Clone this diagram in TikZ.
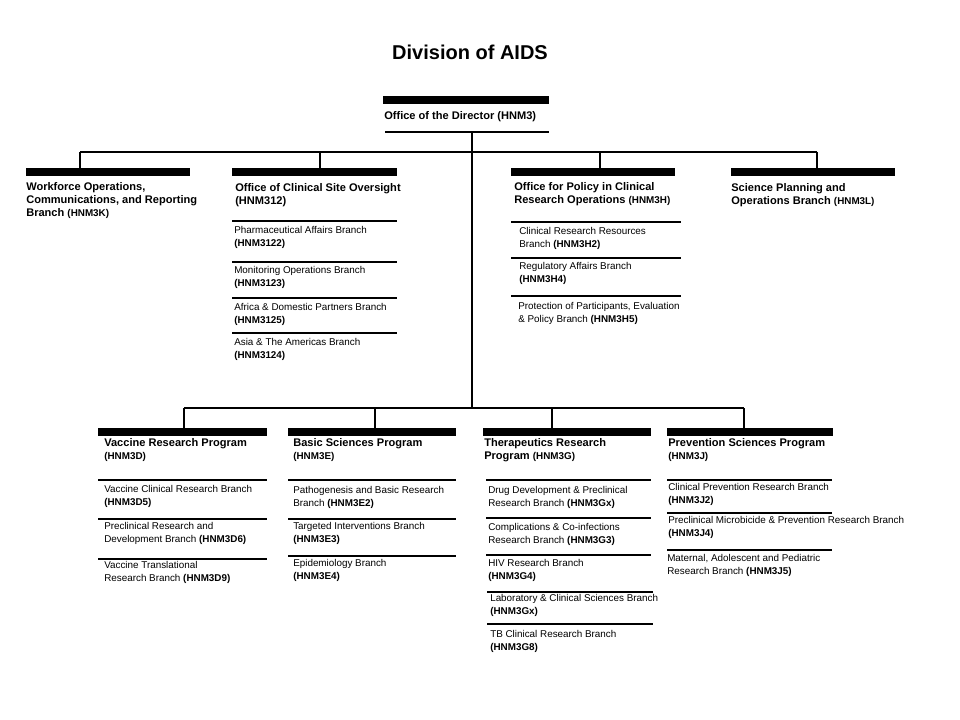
\documentclass[tikz,border=0pt]{standalone}
\usepackage{fontspec}
\setmainfont{Liberation Sans}
\begin{document}
\begin{tikzpicture}[x=0.75pt,y=-0.75pt,
  hd/.style={anchor=north west,inner sep=0pt,align=left,font=\fontsize{8.3}{10}\selectfont\bfseries},
  sb/.style={anchor=north west,inner sep=0pt,align=left,font=\fontsize{7.4}{9.5}\selectfont},
  conn/.style={line width=2pt},
  thin/.style={line width=2pt}]
\useasboundingbox (0,0) rectangle (960,720);
\node[font=\fontsize{15}{18}\selectfont\bfseries] (title) at (470,52) {Division of AIDS};
% bar macro via fill
\newcommand{\bigbar}[3]{\fill (#1,#3-4) rectangle (#2,#3+4);}
\newcommand{\smbar}[3]{\draw[thin] (#1,#3) -- (#2,#3);}
% director
\bigbar{383}{549}{100}
\node[hd] (dir) at (384,111) {Office of the Director (HNM3)};
\smbar{385}{549}{132}
\coordinate (t0) at (472,132);
\coordinate (t1) at (472,152);
\coordinate (t2) at (472,408);
\draw[conn] (t0) -- (t2);
\coordinate (hl) at (80,152); \coordinate (hr) at (817,152);
\draw[conn] (hl) -- (hr);
\foreach \x in {80,320,600,817}{\draw[conn] (\x,152) -- (\x,168);}
\bigbar{26}{190}{172}
\bigbar{232}{397}{172}
\bigbar{511}{675}{172}
\bigbar{731}{895}{172}
\node[hd] (wocr) at (26,182) {Workforce Operations,\\Communications, and Reporting\\Branch {\fontsize{7.4}{9}\selectfont(HNM3K)}};
\node[hd] (ocso) at (235,183) {Office of Clinical Site Oversight\\(HNM312)};
\node[hd] (opcr) at (514,182) {Office for Policy in Clinical\\Research Operations {\fontsize{7.4}{9}\selectfont(HNM3H)}};
\node[hd] (spob) at (731,183) {Science Planning and\\Operations Branch {\fontsize{7.4}{9}\selectfont(HNM3L)}};
% OCSO subs
\smbar{232}{397}{221}\smbar{232}{397}{262}\smbar{232}{397}{298}\smbar{232}{397}{333}
\node[sb] (s1) at (234,226) {Pharmaceutical Affairs Branch\\\textbf{(HNM3122)}};
\node[sb] (s2) at (234,266) {Monitoring Operations Branch\\\textbf{(HNM3123)}};
\node[sb] (s3) at (234,303) {Africa \& Domestic Partners Branch\\\textbf{(HNM3125)}};
\node[sb] (s4) at (234,338) {Asia \& The Americas Branch\\\textbf{(HNM3124)}};
% Policy subs
\smbar{511}{681}{222}\smbar{511}{681}{258}\smbar{511}{681}{296}
\node[sb] (p1) at (519,227) {Clinical Research Resources\\Branch \textbf{(HNM3H2)}};
\node[sb] (p2) at (519,262) {Regulatory Affairs Branch\\\textbf{(HNM3H4)}};
\node[sb] (p3) at (518,302) {Protection of Participants, Evaluation\\\& Policy Branch \textbf{(HNM3H5)}};
% bottom
\draw[conn] (184,408) -- (744,408);
\foreach \x in {184,375,552,744}{\draw[conn] (\x,408) -- (\x,428);}
\bigbar{98}{267}{432}
\bigbar{288}{456}{432}
\bigbar{483}{651}{432}
\bigbar{667}{833}{432}
\node[hd] (vrp) at (104,438) {Vaccine Research Program\\{\fontsize{7.4}{9}\selectfont(HNM3D)}};
\node[hd] (bsp) at (293,438) {Basic Sciences Program\\{\fontsize{7.4}{9}\selectfont(HNM3E)}};
\node[hd] (trp) at (484,438) {Therapeutics Research\\Program {\fontsize{7.4}{9}\selectfont(HNM3G)}};
\node[hd] (psp) at (668,438) {Prevention Sciences Program\\{\fontsize{7.4}{9}\selectfont(HNM3J)}};
% vaccine
\smbar{98}{267}{480}\smbar{98}{267}{519}\smbar{98}{267}{559}
\node[sb] (v1) at (104,485) {Vaccine Clinical Research Branch\\\textbf{(HNM3D5)}};
\node[sb] (v2) at (104,522) {Preclinical Research and\\Development Branch \textbf{(HNM3D6)}};
\node[sb] (v3) at (104,561) {Vaccine Translational\\Research Branch \textbf{(HNM3D9)}};
% basic
\smbar{288}{456}{480}\smbar{288}{456}{519}\smbar{288}{456}{556}
\node[sb] (b1) at (293,486) {Pathogenesis and Basic Research\\Branch \textbf{(HNM3E2)}};
\node[sb] (b2) at (293,522) {Targeted Interventions Branch\\\textbf{(HNM3E3)}};
\node[sb] (b3) at (293,559) {Epidemiology  Branch\\\textbf{(HNM3E4)}};
% therapeutics
\smbar{486}{651}{480}\smbar{486}{651}{518}\smbar{486}{651}{555}\smbar{487}{653}{592}\smbar{487}{653}{624}
\node[sb] (th1) at (488,486) {Drug Development \& Preclinical\\Research Branch \textbf{(HNM3Gx)}};
\node[sb] (th2) at (488,523) {Complications \& Co-infections\\Research Branch \textbf{(HNM3G3)}};
\node[sb] (th3) at (488,559) {HIV Research Branch\\\textbf{(HNM3G4)}};
\node[sb] (th4) at (490,594) {Laboratory \& Clinical Sciences Branch\\\textbf{(HNM3Gx)}};
\node[sb] (th5) at (490,630) {TB Clinical Research Branch\\\textbf{(HNM3G8)}};
% prevention
\smbar{667}{832}{480}\smbar{667}{832}{513}\smbar{667}{832}{550}
\node[sb] (ps1) at (668,483) {Clinical Prevention Research Branch\\\textbf{(HNM3J2)}};
\node[sb] (ps2) at (668,516) {Preclinical Microbicide \& Prevention Research Branch\\\textbf{(HNM3J4)}};
\node[sb] (ps3) at (667,554) {Maternal, Adolescent and Pediatric\\Research Branch \textbf{(HNM3J5)}};
\end{tikzpicture}
\end{document}
